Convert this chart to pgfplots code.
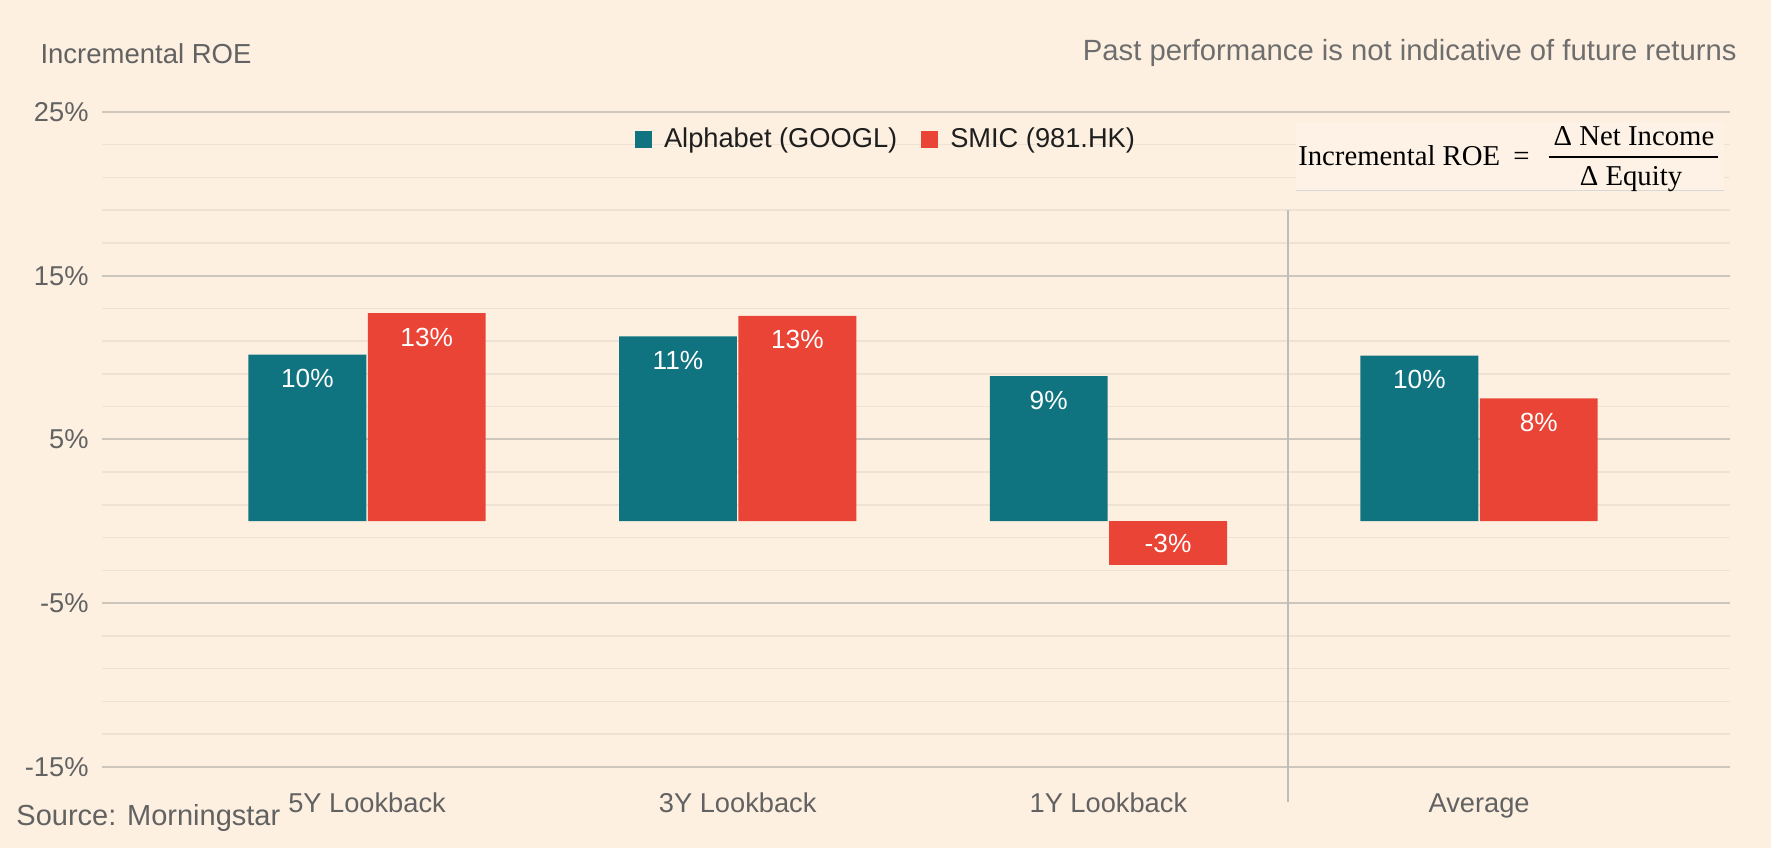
\documentclass[border=0pt]{standalone}
\usepackage{pgfplots}
\pgfplotsset{compat=1.18}
\usepackage{fontspec}
\setmainfont{Liberation Sans}
\newfontfamily\formfont{Liberation Serif}
\definecolor{bg}{HTML}{FDF0E1}
\definecolor{cgoogl}{HTML}{0F7480}
\definecolor{csmic}{HTML}{EA4436}
\definecolor{majgrid}{HTML}{CDC6BD}
\definecolor{mingrid}{HTML}{EDE2D4}
\definecolor{lbl}{HTML}{626262}
\definecolor{hdr}{HTML}{6E6E6E}
\definecolor{legtext}{HTML}{1E1E1E}
\definecolor{sep}{HTML}{BDBDBD}
\definecolor{boxline}{HTML}{D8D9D6}

\begin{document}
\begin{tikzpicture}[x=1pt,y=1pt]
\fill[bg] (-40.8,-32.5) rectangle (667.6,306.7);
\begin{axis}[
  at={(0,0)}, anchor=south west,
  scale only axis, width=651.2pt, height=261.9pt,
  xmin=-0.715, xmax=3.677, ymin=-15, ymax=25,
  axis line style={draw=none},
  tick style={draw=none},
  clip=false,
  xtick={0,1,2,3},
  xticklabels={5Y Lookback,3Y Lookback,1Y Lookback,Average},
  ytick={-15,-5,5,15,25},
  minor ytick={-13,-11,-9,-7,-3,-1,1,3,7,9,11,13,17,19,21,23},
  ymajorgrids, yminorgrids,
  major grid style={majgrid, line width=0.8pt},
  minor grid style={mingrid, line width=0.6pt},
  /pgf/number format/assume math mode=true,
  yticklabel={\pgfmathprintnumber{\tick}\%},
  ticklabel style={font=\fontsize{10.9}{13}\selectfont, text=lbl},
  xticklabel style={anchor=base, yshift=-14.2pt, inner sep=0pt},
  yticklabel style={anchor=east, xshift=-5.2pt, inner sep=0pt},
  ybar, bar width=0.318,
  nodes near coords={\pgfmathprintnumber[fixed,precision=0]{\pgfplotspointmeta}\%},
  nodes near coords align={center},
  visualization depends on={y \as \rawy},
  every node near coord/.append style={text=white, font=\fontsize{10.5}{12}\selectfont,
     anchor=center, yshift={ifthenelse(\rawy>0,-9.6,8.6)}},
  legend columns=2,
  legend style={at={(0.3268,0.958)}, anchor=west, draw=none, fill=none,
     inner sep=0pt, font=\fontsize{10.9}{13}\selectfont, text=legtext,
     /tikz/every odd column/.append style={column sep=3pt},
     /tikz/every even column/.append style={column sep=7.4pt}},
  legend image code/.code={\fill[#1] (0pt,-3.4pt) rectangle (6.8pt,3.4pt);},
]
\addplot[fill=cgoogl, draw=none, bar shift=-0.161] coordinates {(0,10.18) (1,11.29) (2,8.87) (3,10.12)};
\addlegendentry{Alphabet (GOOGL)}
\addplot[fill=csmic, draw=none, bar shift=0.161] coordinates {(0,12.72) (1,12.55) (2,-2.66) (3,7.50)};
\addlegendentry{SMIC (981.HK)}
\draw[sep, line width=0.8pt] (axis cs:2.484,19) -- (axis cs:2.484,-17.16);
\end{axis}
% formula box
\fill[bg!85!white] (477.5,230.4) rectangle (648.7,258);
\draw[boxline, line width=0.6pt] (477.5,230.4) -- (648.7,230.4);
\node[anchor=base west, inner sep=0pt, font=\formfont\fontsize{11.5}{13}\selectfont] at (478.3,240.3) {Incremental ROE};
\node[anchor=base, inner sep=0pt, font=\formfont\fontsize{11.5}{13}\selectfont] at (567.8,240.3) {=};
\node[anchor=base, inner sep=0pt, font=\formfont\fontsize{11.5}{13}\selectfont] at (612.8,248.4) {Δ Net Income};
\node[anchor=base, inner sep=0pt, font=\formfont\fontsize{11.5}{13}\selectfont] at (611.6,232.3) {Δ Equity};
\draw[line width=0.8pt] (578.7,243.8) -- (646.4,243.8);
% header and footer
\node[anchor=base west, inner sep=0pt, text=lbl, font=\fontsize{11}{13}\selectfont] at (-24.8,281.1) {Incremental ROE};
\node[anchor=base east, inner sep=0pt, text=hdr, font=\fontsize{11.7}{14}\selectfont] at (654,282.3) {Past performance is not indicative of future returns};
\node[anchor=base west, inner sep=0pt, text=lbl, font=\fontsize{11.6}{14}\selectfont] at (-34.4,-23.6) {Source: Morningstar};
\end{tikzpicture}
\end{document}
